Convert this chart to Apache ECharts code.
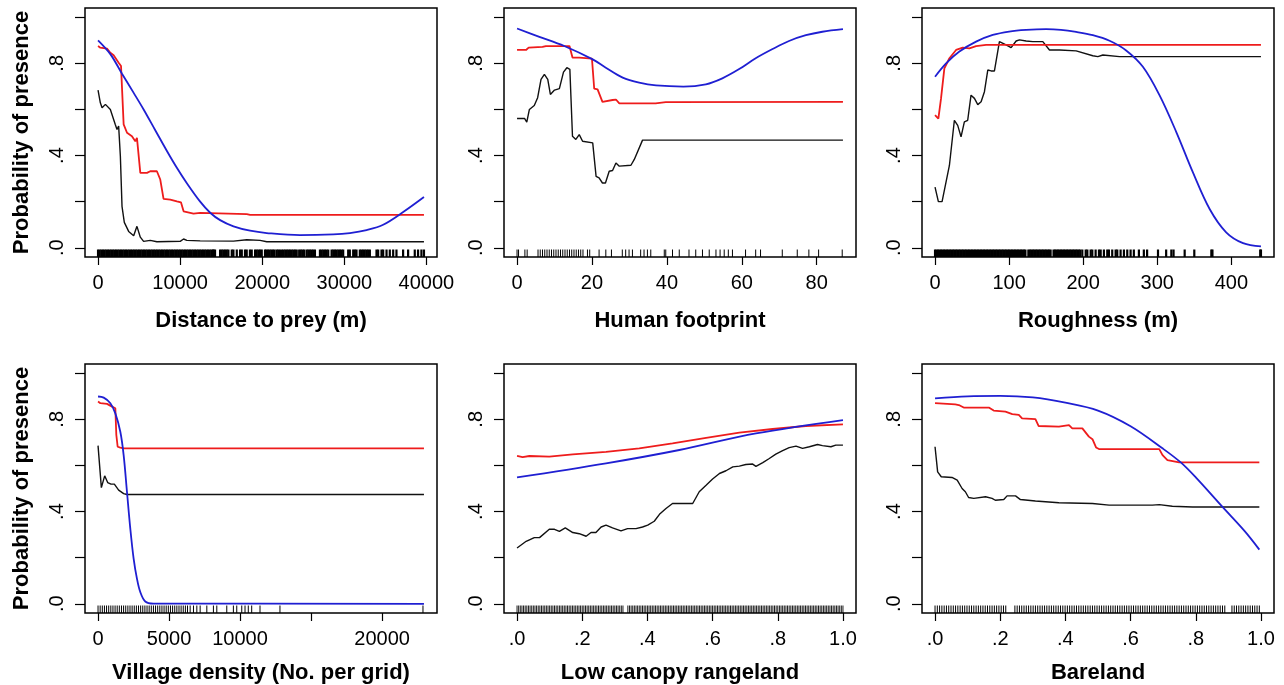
<!DOCTYPE html>
<html><head><meta charset="utf-8">
<script src="https://cdn.jsdelivr.net/npm/echarts@6/dist/echarts.min.js"></script>
<style>html,body{margin:0;padding:0;background:#fff}#c{width:1284px;height:685px}</style>
</head><body><div id="c"></div>
<script>
// ---------------- DATA ----------------
const xTitles = ['Distance to prey (m)', 'Human footprint', 'Roughness (m)',
                 'Village density (No. per grid)', 'Low canopy rangeland', 'Bareland'];
const yTitle = 'Probability of presence';
const yTicks = [0, 0.2, 0.4, 0.6, 0.8, 1.0];
const yLabelVals = [0, 0.4, 0.8];

// data ranges of each covariate
const p1Range = [0, 39700], p2Range = [0, 87], p3Range = [0, 440],
      p4Range = [0, 22950], p5Range = [0, 1], p6Range = [0, 1];

const p1Ticks = [0, 10000, 20000, 30000, 40000];
const p1Labels = [0, 10000, 20000, 30000, 40000];
const p2Ticks = [0, 20, 40, 60, 80];
const p2Labels = [0, 20, 40, 60, 80];
const p3Ticks = [0, 100, 200, 300, 400];
const p3Labels = [0, 100, 200, 300, 400];
const p4Ticks = [0, 5000, 10000, 15000, 20000];
const p4Labels = [0, 5000, 10000, 20000];
const p5Ticks = [0, 0.2, 0.4, 0.6, 0.8, 1.0];
const p5Labels = [0, 0.2, 0.4, 0.6, 0.8, 1.0];
const p6Ticks = [0, 0.2, 0.4, 0.6, 0.8, 1.0];
const p6Labels = [0, 0.2, 0.4, 0.6, 0.8, 1.0];

// Panel 1: Distance to prey
const p1Black = [[0,0.684],[280,0.629],[490,0.607],[900,0.622],[1500,0.6],[2100,0.535],[2310,0.513],[2510,0.528],[2720,0.397],[2920,0.18],[3200,0.11],[3730,0.071],[4340,0.052],[4740,0.093],[5150,0.046],[5550,0.028],[6360,0.032],[7170,0.026],[10010,0.028],[10420,0.038],[10820,0.032],[12440,0.03],[16500,0.029],[18120,0.035],[19740,0.032],[20550,0.026],[39700,0.026]];
const p1Red = [[0,0.875],[280,0.868],[1090,0.864],[1500,0.846],[1900,0.835],[2510,0.803],[2800,0.788],[3120,0.535],[3530,0.499],[4130,0.484],[4540,0.462],[4740,0.477],[5150,0.325],[5960,0.325],[6360,0.332],[7170,0.332],[7580,0.296],[7980,0.212],[8800,0.209],[9600,0.201],[10100,0.197],[10420,0.158],[11630,0.148],[12440,0.151],[18120,0.146],[18520,0.143],[39700,0.143]];
const p1Blue = [[0,0.9],[1500,0.84],[2918,0.755],[4340,0.672],[5553,0.6],[6970,0.51],[8390,0.42],[9600,0.347],[10820,0.28],[12440,0.2],[13660,0.152],[14870,0.12],[16500,0.093],[18520,0.074],[20550,0.064],[24600,0.055],[28650,0.058],[30680,0.064],[32710,0.077],[34730,0.1],[37170,0.155],[39700,0.22]];
const p1Rug = [0,200,400,600,800,1000,1200,1400,1600,1800,2000,2200,2400,2600,2800,3000,3200,3400,3600,3800,4000,4200,4400,4600,4800,5000,5200,5400,5600,5800,6000,6200,6400,6600,6800,7000,7200,7400,7600,7800,8000,8200,8400,8600,8800,9000,9200,9400,9600,9800,10000,10200,10400,10600,10800,11000,11200,11400,11600,11800,12000,12200,12400,12600,12800,13000,13200,13400,13600,13800,14000,14060,14250,14870,15070,15270,15480,15680,15880,16290,16490,16900,17300,17510,17900,18110,18500,18720,19130,19330,19540,19740,19940,20340,20500,20700,20900,21100,21300,21500,21760,21950,22150,22400,22600,22800,23000,23200,23380,23600,23800,24000,24200,24500,24700,24900,25100,25400,25600,25800,26000,26200,26420,27030,27230,27430,27640,27840,28040,28450,28650,28850,29050,29260,29460,29660,29860,30470,30670,31080,31280,31480,31890,32090,32290,32490,32700,32900,33110,33920,34120,34530,34730,35140,35540,35950,36350,37160,37770,38580,38980,39390,39700];

// Panel 2: Human footprint
const p2Black = [[0,0.561],[2,0.561],[2.6,0.545],[3.3,0.6],[4.6,0.617],[5.5,0.651],[6.4,0.73],[7.3,0.752],[8.2,0.73],[8.9,0.665],[10,0.684],[11.3,0.69],[12.4,0.762],[13.3,0.781],[14.1,0.774],[14.8,0.484],[15.7,0.47],[16.6,0.491],[17.5,0.462],[20.2,0.455],[21.1,0.31],[21.9,0.303],[22.8,0.281],[23.6,0.281],[24.6,0.332],[25.5,0.335],[26.4,0.368],[27.3,0.354],[30.4,0.358],[31.3,0.383],[33.5,0.467],[87,0.467]];
const p2Red = [[0,0.858],[2.4,0.858],[3.1,0.868],[6.8,0.871],[7.7,0.875],[14,0.875],[14.8,0.825],[16.6,0.825],[20,0.82],[20.6,0.69],[21.5,0.687],[22.8,0.633],[25.5,0.641],[26.4,0.643],[27.3,0.626],[37,0.626],[39.7,0.632],[87,0.633]];
const p2Blue = [[0,0.951],[5.96,0.915],[12.6,0.875],[20.2,0.817],[23.7,0.781],[28.2,0.738],[32.6,0.716],[37.1,0.704],[44.4,0.699],[50.4,0.709],[54.8,0.735],[59.3,0.775],[63.7,0.822],[68.2,0.862],[72.6,0.897],[77.1,0.922],[81.5,0.937],[87,0.948]];
const p2Rug = [0,0.4,2.1,2.7,5.6,6.2,6.8,7.4,8,8.6,9.2,9.8,10.4,11,11.6,12.2,12.8,13.4,14,14.6,15.2,15.8,16.4,17,17.6,18.8,19.4,21.9,23.7,25.2,28.1,29,29.9,30.8,33,33.9,34.8,35.7,39.3,39.7,41.5,43.3,45.9,47.7,49.5,51.3,53.1,54.2,55.3,56.4,57.5,61,63.7,65,70.8,74.8,77.9,80.5,86.8];

// Panel 3: Roughness
const p3Black = [[0,0.263],[4.5,0.2],[9.5,0.2],[19.4,0.357],[26.1,0.553],[30.6,0.531],[35.1,0.481],[39.6,0.546],[44.1,0.553],[48.6,0.662],[53.2,0.648],[57.7,0.621],[62.2,0.633],[66.7,0.677],[71.2,0.771],[75.7,0.767],[80.2,0.767],[86.9,0.894],[95.9,0.88],[102.7,0.868],[109.5,0.897],[114,0.902],[123,0.897],[132,0.894],[145.5,0.894],[154.5,0.858],[168,0.858],[190.5,0.854],[213,0.833],[219.8,0.829],[226.6,0.836],[249,0.829],[440,0.829]];
const p3Red = [[0,0.575],[4.5,0.56],[8.1,0.648],[12.6,0.778],[19.4,0.822],[28.4,0.858],[37.4,0.868],[46.4,0.865],[55.4,0.875],[68.9,0.88],[440,0.88]];
const p3Blue = [[0,0.742],[14.9,0.8],[32.9,0.851],[55.4,0.894],[77.9,0.923],[100,0.938],[123,0.945],[150,0.948],[170,0.945],[190.5,0.936],[213,0.922],[235.6,0.898],[258,0.856],[280.6,0.785],[303,0.662],[325.7,0.502],[348,0.328],[370.7,0.168],[393,0.067],[415.8,0.02],[440,0.006]];
const p3Rug = [0,2,4,6,8,10,12,14,16,18,20,22,24,26,28,30,32,34,36,38,40,42,44,46,48,50,52,54,56,58,60,62,64,66,68,70,72,74,76,78,80,82,84,86,88,90,92,94,96,98,100,102,104,106,108,110,112,114,116,118,120,122,126,128,130,132,134,136,138,140,142,144,146,148,150,152,154,156,160,162,164,166,168,170,172,174,176,178,180,182,184,186,188,190,192,194,196,198.8,203.4,205.6,210.1,212.3,216.8,221.3,223.6,228,232.5,234.7,239.2,243.8,246,250.5,255,259.5,264,268.4,275.2,281.9,286.3,301,312,319,322,337,350,373,374.5,439,440];

// Panel 4: Village density
const p4Black = [[0,0.686],[234,0.504],[468,0.555],[679,0.526],[913,0.519],[1148,0.519],[1452,0.493],[1803,0.478],[2037,0.474],[22950,0.474]];
const p4Red = [[0,0.877],[164,0.87],[632,0.867],[984,0.855],[1218,0.848],[1288,0.732],[1382,0.681],[1569,0.677],[1803,0.674],[22950,0.674]];
const p4Blue = [[0,0.899],[398,0.894],[867,0.87],[1218,0.826],[1569,0.746],[1803,0.645],[2037,0.486],[2272,0.326],[2506,0.196],[2740,0.109],[2974,0.051],[3326,0.01],[3911,0.001],[22950,0]];
const p4Rug = [0,150,300,450,600,750,900,1050,1200,1350,1500,1650,1800,1950,2100,2250,2400,2550,2700,2850,3000,3150,3300,3450,3600,3750,3900,4050,4200,4350,4500,4650,4800,4950,5100,5250,5400,5550,5700,5850,6000,6150,6300,6486,6720,6957,7190,7660,8124,8363,9065,9530,9768,10120,10350,10580,10820,11405,12810,22880];

// Panel 5: Low canopy rangeland
const p5Black = [[0,0.242],[0.028,0.271],[0.053,0.287],[0.069,0.287],[0.099,0.323],[0.115,0.323],[0.13,0.314],[0.148,0.329],[0.171,0.309],[0.191,0.304],[0.212,0.293],[0.227,0.309],[0.242,0.309],[0.258,0.333],[0.273,0.341],[0.293,0.329],[0.319,0.316],[0.339,0.326],[0.365,0.326],[0.385,0.333],[0.401,0.341],[0.421,0.358],[0.437,0.388],[0.457,0.413],[0.477,0.435],[0.498,0.435],[0.518,0.435],[0.539,0.435],[0.559,0.486],[0.58,0.514],[0.6,0.541],[0.621,0.565],[0.641,0.577],[0.662,0.594],[0.682,0.597],[0.702,0.604],[0.723,0.606],[0.733,0.596],[0.754,0.612],[0.774,0.63],[0.794,0.649],[0.815,0.664],[0.835,0.677],[0.856,0.684],[0.876,0.674],[0.897,0.681],[0.922,0.691],[0.937,0.686],[0.963,0.681],[0.978,0.688],[1,0.688]];
const p5Red = [[0,0.642],[0.017,0.636],[0.038,0.641],[0.099,0.638],[0.171,0.648],[0.273,0.659],[0.375,0.674],[0.477,0.696],[0.58,0.72],[0.682,0.742],[0.784,0.758],[0.886,0.771],[1,0.778]];
const p5Blue = [[0,0.548],[0.273,0.609],[0.498,0.667],[0.733,0.739],[1,0.797]];
// rug values in thousandths
const p5RugPermille = [0,5,10,15,20,25,30,35,40,45,50,55,60,65,70,75,80,85,90,95,100,105,110,115,120,125,130,135,140,145,150,155,160,165,170,175,180,185,190,195,200,205,210,215,220,225,230,235,240,245,250,255,260,265,270,275,280,285,290,295,300,305,310,315,320,325,340,345,350,355,360,365,370,375,380,385,390,395,400,405,410,415,420,425,430,435,440,445,450,455,460,465,470,475,480,485,490,495,500,505,510,515,520,525,530,535,540,545,550,555,560,565,570,575,580,585,590,595,600,605,610,615,620,625,630,635,640,645,650,655,660,665,670,675,680,685,690,695,700,705,710,715,720,725,730,735,740,745,750,755,760,765,770,775,780,785,790,795,800,805,810,815,820,825,830,835,840,845,850,855,860,865,870,875,880,885,890,895,900,905,910,915,920,925,930,935,940,945,950,955,960,965,970,975,980,985,990,995,1000];

// Panel 6: Bareland
const p6Black = [[0,0.681],[0.008,0.572],[0.019,0.551],[0.052,0.548],[0.068,0.536],[0.083,0.5],[0.093,0.486],[0.103,0.461],[0.119,0.457],[0.155,0.464],[0.175,0.457],[0.185,0.449],[0.211,0.452],[0.221,0.468],[0.247,0.468],[0.262,0.452],[0.308,0.446],[0.38,0.438],[0.483,0.435],[0.534,0.428],[0.667,0.428],[0.688,0.43],[0.728,0.423],[0.79,0.42],[0.995,0.42]];
const p6Red = [[0,0.87],[0.062,0.865],[0.073,0.862],[0.088,0.851],[0.165,0.851],[0.18,0.838],[0.216,0.833],[0.237,0.823],[0.257,0.819],[0.267,0.804],[0.308,0.801],[0.318,0.771],[0.38,0.768],[0.411,0.775],[0.421,0.761],[0.452,0.761],[0.472,0.725],[0.483,0.714],[0.494,0.678],[0.503,0.671],[0.688,0.671],[0.698,0.645],[0.713,0.623],[0.749,0.613],[0.995,0.613]];
const p6Blue = [[0,0.891],[0.1,0.9],[0.2,0.902],[0.3,0.895],[0.4,0.872],[0.5,0.838],[0.6,0.77],[0.7,0.672],[0.754,0.613],[0.8,0.548],[0.882,0.42],[0.95,0.315],[0.995,0.235]];
const p6RugPermille = [0,7,14,21,28,35,42,49,56,63,70,77,84,91,98,105,112,119,126,133,140,147,154,161,168,175,182,189,196,203,210,217,245,252,259,266,273,280,287,294,301,308,315,322,329,336,343,350,357,364,371,378,385,392,399,406,413,420,427,434,441,448,455,462,469,476,483,490,497,504,511,518,525,532,539,546,553,560,567,574,581,588,595,602,609,616,623,630,637,644,651,658,665,672,679,686,693,700,707,714,721,728,735,742,749,756,763,770,777,784,791,798,805,812,819,826,833,840,847,854,861,868,875,882,889,911,918,925,932,939,946,953,960,967,974,981,988,995];

// ---------------- LAYOUT / STYLE ----------------
const FONT = '"Liberation Sans", Arial, Helvetica, sans-serif';
const Y_MIN = -0.04, Y_MAX = 1.04;
const GRID_W = 352, GRID_H = 249;
const COL_LEFT = [85, 504, 922];
const ROW_TOP = [8, 364];
const ROW_NAMEGAP = [53, 49];
const C_BLACK = '#111111', C_RED = '#ee1c1c', C_BLUE = '#1f1fd2';

function dotFmt(v) {
  if (Math.abs(v - 1) < 1e-9) return '1.0';
  if (Math.abs(v) < 1e-9) return '.0';
  return '.' + Math.round(v * 10);
}
function intFmt(v) { return String(Math.round(v)); }

const panels = [
  {black: p1Black, red: p1Red, blue: p1Blue, rug: p1Rug, range: p1Range, ticks: p1Ticks, labels: p1Labels, fmt: intFmt, rugW: 2.2},
  {black: p2Black, red: p2Red, blue: p2Blue, rug: p2Rug, range: p2Range, ticks: p2Ticks, labels: p2Labels, fmt: intFmt, rugW: 1},
  {black: p3Black, red: p3Red, blue: p3Blue, rug: p3Rug, range: p3Range, ticks: p3Ticks, labels: p3Labels, fmt: intFmt, rugW: 2.2},
  {black: p4Black, red: p4Red, blue: p4Blue, rug: p4Rug, range: p4Range, ticks: p4Ticks, labels: p4Labels, fmt: intFmt, rugW: 1},
  {black: p5Black, red: p5Red, blue: p5Blue, rug: p5RugPermille.map(v => v / 1000), range: p5Range, ticks: p5Ticks, labels: p5Labels, fmt: dotFmt, rugW: 0.9},
  {black: p6Black, red: p6Red, blue: p6Blue, rug: p6RugPermille.map(v => v / 1000), range: p6Range, ticks: p6Ticks, labels: p6Labels, fmt: dotFmt, rugW: 1}
];

function makeRugRender(w) {
  return function (params, api) {
    const p = api.coord([api.value(0), Y_MIN]);
    return {
      type: 'line',
      shape: {x1: p[0], y1: p[1], x2: p[0], y2: p[1] - 7.5},
      style: {stroke: '#000', lineWidth: w}
    };
  };
}

const option = {animation: false, backgroundColor: '#fff', grid: [], xAxis: [], yAxis: [], series: []};

panels.forEach((p, i) => {
  const row = Math.floor(i / 3), col = i % 3;
  option.grid.push({
    left: COL_LEFT[col], top: ROW_TOP[row], width: GRID_W, height: GRID_H,
    show: true, borderColor: '#000', borderWidth: 1.5, backgroundColor: 'transparent',
    containLabel: false, outerBoundsMode: 'none'
  });
  const span = p.range[1] - p.range[0];
  option.xAxis.push({
    type: 'value', gridIndex: i,
    min: p.range[0] - 0.04 * span, max: p.range[1] + 0.04 * span,
    splitLine: {show: false},
    axisLine: {show: false, onZero: false},
    axisTick: {show: true, length: 8, customValues: p.ticks, lineStyle: {color: '#000', width: 1.2}},
    axisLabel: {customValues: p.labels, formatter: p.fmt, margin: 16, fontSize: 20, color: '#000', fontFamily: FONT},
    name: xTitles[i], nameLocation: 'middle', nameGap: ROW_NAMEGAP[row], nameMoveOverlap: false,
    nameTextStyle: {fontWeight: 'bold', fontSize: 22, color: '#000', fontFamily: FONT}
  });
  option.yAxis.push({
    type: 'value', gridIndex: i, min: Y_MIN, max: Y_MAX,
    splitLine: {show: false},
    axisLine: {show: false, onZero: false},
    axisTick: {show: true, length: 10, customValues: yTicks, lineStyle: {color: '#000', width: 1.2}},
    axisLabel: {customValues: yLabelVals, formatter: dotFmt, rotate: 90, margin: 18, fontSize: 20, color: '#000', fontFamily: FONT},
    name: col === 0 ? yTitle : '', nameLocation: 'middle', nameGap: 52, nameMoveOverlap: false,
    nameTextStyle: {fontWeight: 'bold', fontSize: 22, color: '#000', fontFamily: FONT}
  });
  option.series.push({
    type: 'custom', xAxisIndex: i, yAxisIndex: i, silent: true,
    renderItem: makeRugRender(p.rugW),
    encode: {x: 0, y: 1},
    data: p.rug.map(v => [v, 0])
  });
  option.series.push({type: 'line', xAxisIndex: i, yAxisIndex: i, data: p.black, showSymbol: false, symbol: 'none', silent: true,
    lineStyle: {color: C_BLACK, width: 1.4}});
  option.series.push({type: 'line', xAxisIndex: i, yAxisIndex: i, data: p.red, showSymbol: false, symbol: 'none', silent: true,
    lineStyle: {color: C_RED, width: 1.8}});
  option.series.push({type: 'line', xAxisIndex: i, yAxisIndex: i, data: p.blue, showSymbol: false, symbol: 'none', silent: true, smooth: 0.35,
    lineStyle: {color: C_BLUE, width: 1.8}});
});

const chart = echarts.init(document.getElementById('c'), null, {renderer: 'canvas'});
chart.setOption(option);
</script>
</body></html>
